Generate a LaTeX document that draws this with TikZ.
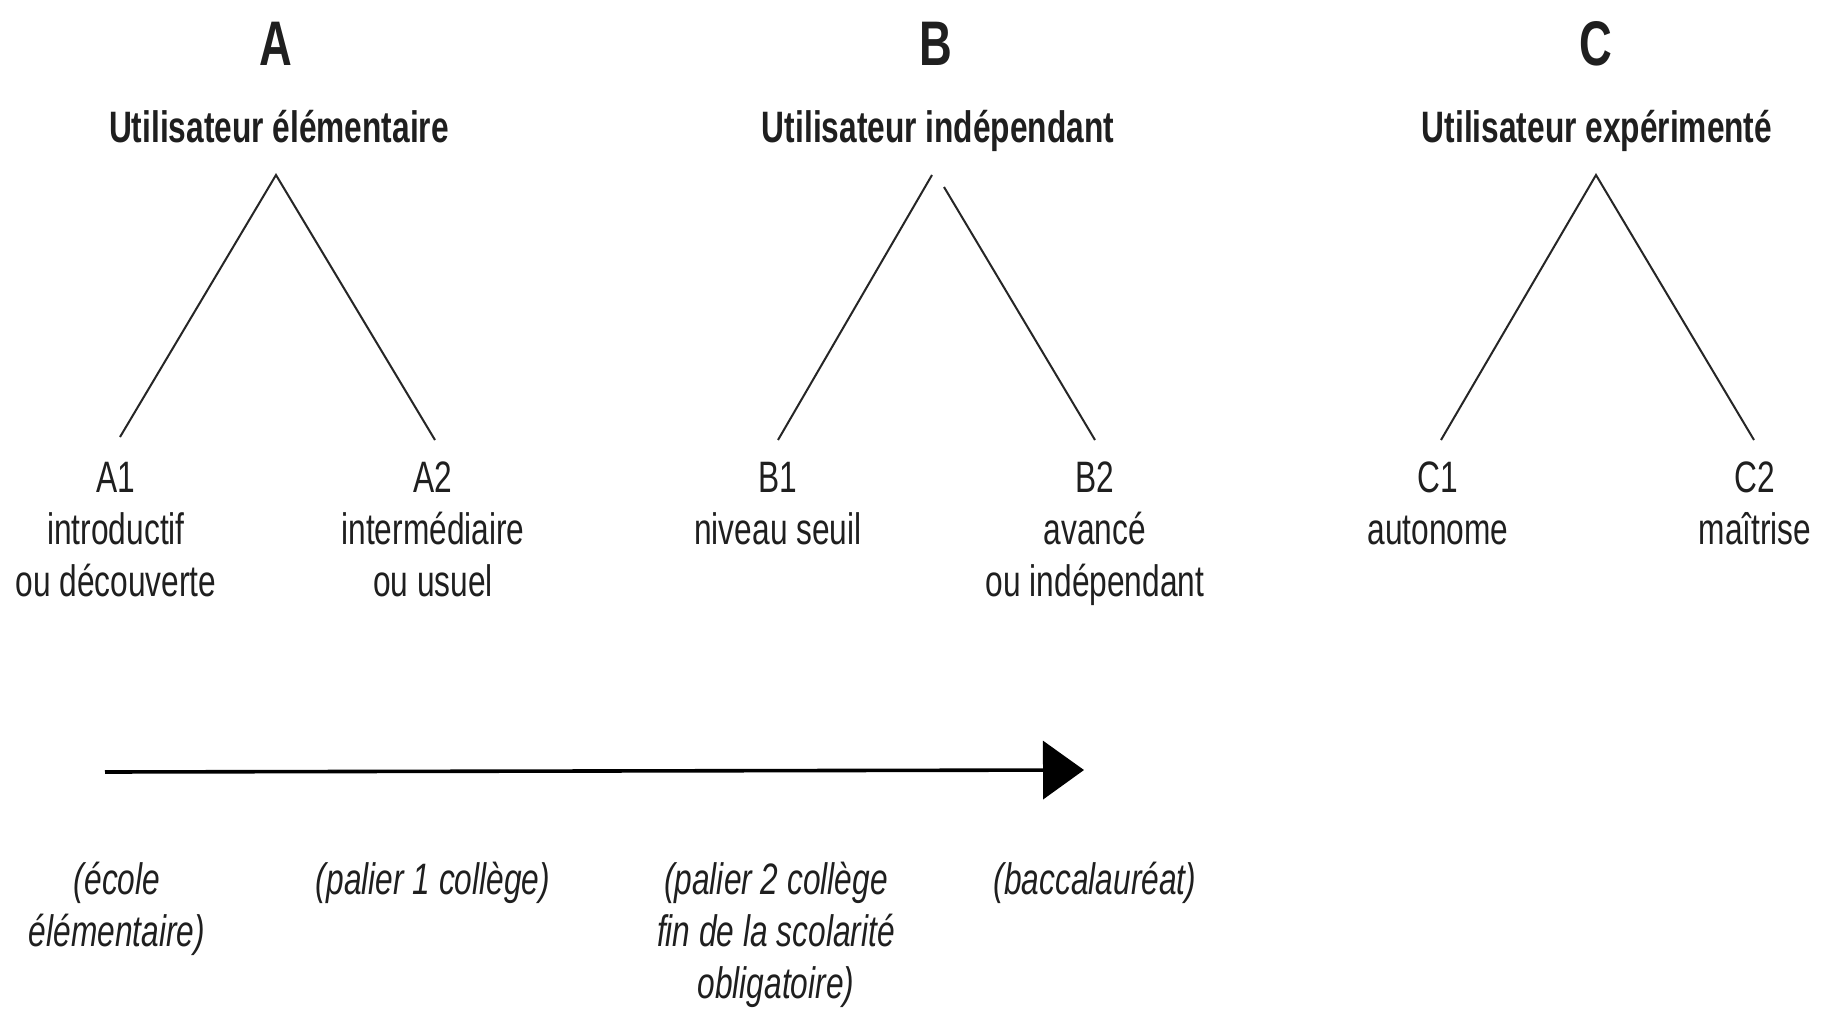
\documentclass[tikz,border=0pt]{standalone}
\usepackage{fontspec}
\setmainfont[FakeStretch=0.72]{Liberation Sans}
\usetikzlibrary{arrows.meta}
\newcommand{\stk}[1]{\begin{tabular}[t]{@{}c@{}}#1\end{tabular}}
\begin{document}
\begin{tikzpicture}[x=0.5pt,y=-0.5pt,
  big/.style={anchor=base, inner sep=0pt, text=black!88, font=\fontsize{31.5}{36}\selectfont\bfseries},
  title/.style={anchor=base, inner sep=0pt, text=black!88, font=\fontsize{22}{26}\selectfont\bfseries},
  lvl/.style={anchor=base, inner sep=0pt, text=black!88, font=\fontsize{22}{26}\selectfont},
  stage/.style={anchor=base, inner sep=0pt, text=black!88, font=\fontsize{22}{26}\selectfont\itshape},
  branch/.style={line width=1pt, draw=black!85},
  timeline/.style={line width=1.8pt, draw=black, -{Triangle[length=20.5pt,width=29pt]}}]
\useasboundingbox[fill=white] (0,0) rectangle (1827,1011);

% group A
\node[big] (A) at (276,66) {A};
\node[title] (tA) at (279,142) {Utilisateur élémentaire};
\node[lvl] (A1) at (116,492) {\stk{A1\\introductif\\ou découverte}};
\node[lvl] (A2) at (433,492) {\stk{A2\\intermédiaire\\ou usuel}};
\coordinate (pA) at (276,175);
\coordinate (eA1) at (120,437);
\coordinate (eA2) at (435,440);
\draw[branch] (eA1) -- (pA) -- (eA2);

% group B
\node[big] (B) at (936,66) {B};
\node[title] (tB) at (938,142) {Utilisateur indépendant};
\node[lvl] (B1) at (778,492) {\stk{B1\\niveau seuil}};
\node[lvl] (B2) at (1095,492) {\stk{B2\\avancé\\ou indépendant}};
\coordinate (pB) at (932,175);
\coordinate (pB2) at (944,187);
\coordinate (eB1) at (778,440);
\coordinate (eB2) at (1095,440);
\draw[branch] (pB) -- (eB1);
\draw[branch] (pB2) -- (eB2);

% group C
\node[big] (C) at (1596,66) {C};
\node[title] (tC) at (1597,142) {Utilisateur expérimenté};
\node[lvl] (C1) at (1438,492) {\stk{C1\\autonome}};
\node[lvl] (C2) at (1755,492) {\stk{C2\\maîtrise}};
\coordinate (pC) at (1596,175);
\coordinate (eC1) at (1441,440);
\coordinate (eC2) at (1754,440);
\draw[branch] (eC1) -- (pC) -- (eC2);

% timeline
\coordinate (t0) at (105,772);
\coordinate (t1) at (1084,770);
\draw[timeline] (t0) -- (t1);

\node[stage] (s1) at (117,894) {\stk{(école\\élémentaire)}};
\node[stage] (s2) at (433,894) {(palier 1 collège)};
\node[stage] (s3) at (776,894) {\stk{(palier 2 collège\\fin de la scolarité\\obligatoire)}};
\node[stage] (s4) at (1095,894) {(baccalauréat)};
\end{tikzpicture}
\end{document}
